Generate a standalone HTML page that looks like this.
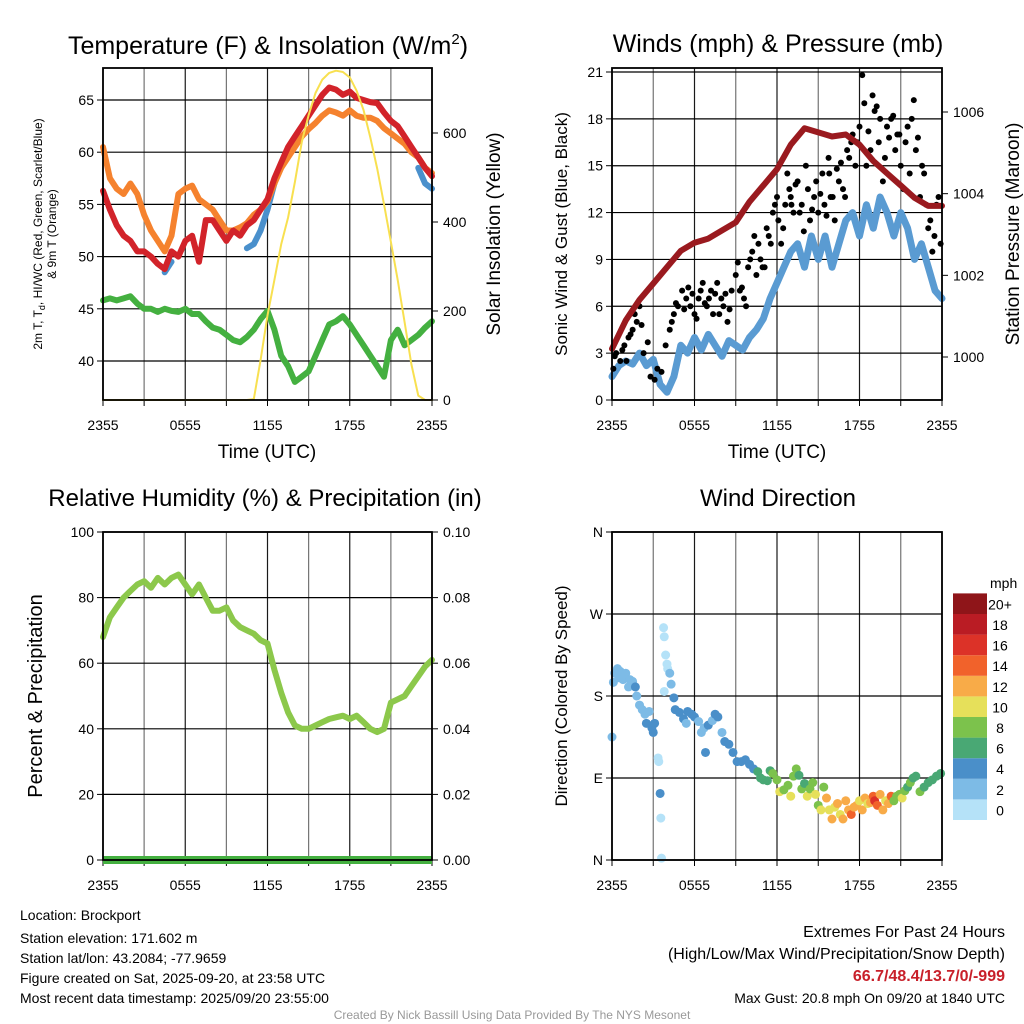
<!DOCTYPE html>
<html><head><meta charset="utf-8"><style>
html,body{margin:0;padding:0;background:#fff}
svg{display:block;font-family:"Liberation Sans",sans-serif}
</style></head><body>
<svg id="c" width="1024" height="1024" viewBox="0 0 1024 1024">
<text x="268" y="54" font-size="25" text-anchor="middle">Temperature (F) &amp; Insolation (W/m<tspan font-size="15" dy="-10">2</tspan><tspan dy="10">)</tspan></text>
<text x="778" y="52" font-size="25" text-anchor="middle">Winds (mph) &amp; Pressure (mb)</text>
<text x="265" y="506" font-size="24" text-anchor="middle">Relative Humidity (%) &amp; Precipitation (in)</text>
<text x="778" y="506" font-size="24" text-anchor="middle">Wind Direction</text>
<text x="267" y="458" font-size="19" text-anchor="middle">Time (UTC)</text>
<text x="777" y="458" font-size="19" text-anchor="middle">Time (UTC)</text>
<text transform="translate(42,234) rotate(-90)" font-size="12" text-anchor="middle">2m T, T<tspan font-size="9" dy="3">d</tspan><tspan dy="-3">, HI/WC (Red, Green, Scarlet/Blue)</tspan></text>
<text transform="translate(56,234) rotate(-90)" font-size="12" text-anchor="middle">&amp; 9m T (Orange)</text>
<text transform="translate(500,234) rotate(-90)" font-size="19" text-anchor="middle">Solar Insolation (Yellow)</text>
<text transform="translate(567,234) rotate(-90)" font-size="17" text-anchor="middle">Sonic Wind &amp; Gust (Blue, Black)</text>
<text transform="translate(1019,234) rotate(-90)" font-size="19" text-anchor="middle">Station Pressure (Maroon)</text>
<text transform="translate(42,696) rotate(-90)" font-size="20" text-anchor="middle">Percent &amp; Precipitation</text>
<text transform="translate(567,696) rotate(-90)" font-size="17" text-anchor="middle">Direction (Colored By Speed)</text>
<g font-size="14">
<text x="20" y="920">Location: Brockport</text>
<text x="20" y="943">Station elevation: 171.602 m</text>
<text x="20" y="963">Station lat/lon: 43.2084; -77.9659</text>
<text x="20" y="983">Figure created on Sat, 2025-09-20, at 23:58 UTC</text>
<text x="20" y="1003">Most recent data timestamp: 2025/09/20 23:55:00</text>
</g>
<g text-anchor="end">
<text x="1005" y="937" font-size="16">Extremes For Past 24 Hours</text>
<text x="1005" y="959" font-size="16">(High/Low/Max Wind/Precipitation/Snow Depth)</text>
<text x="1005" y="981" font-size="16" font-weight="bold" fill="#c8202a">66.7/48.4/13.7/0/-999</text>
<text x="1005" y="1003" font-size="14">Max Gust: 20.8 mph On 09/20 at 1840 UTC</text>
</g>
<text x="512" y="1019" font-size="12" fill="#999" text-anchor="middle">Created By Nick Bassill Using Data Provided By The NYS Mesonet</text>
</svg>
<script>
// ---- data (half-hourly from 2355 UTC) ----
const xTickLabels = ["2355","0555","1155","1755","2355"];
const tempRed = [56.3,54.5,53,52,51.5,50.5,50.5,50,49.3,48.8,50.5,50,51.5,52,49.5,53.5,53.5,52.5,51.5,52.5,52,53,53.5,54.5,55.5,57.5,59,60.5,61.5,62.5,63.5,64.5,65.5,66.2,66,65.5,65.8,65.2,65,64.8,64.7,63.8,63,62.5,61.5,60.5,59.5,58.5,57.7];
const temp9m = [60.5,57.5,56.5,56,57,56,54,52.5,51.5,50.5,52,56,56.5,56.8,55.5,55,54.5,53.5,52.5,52.5,52.8,53.2,54,54.5,55.3,57,58.5,59.5,60.5,61.5,62.2,62.8,63.5,64,63.8,63.5,64,63.5,63.3,63.3,63,62.3,61.8,61.3,60.8,60,59.5,58.5,58];
const heatIdx = [null,null,null,null,null,null,null,null,null,48.5,49.5,null,null,null,null,null,null,null,null,null,null,50.8,51.2,52.5,54.5,57,null,null,null,null,null,null,null,null,null,null,null,null,null,null,null,null,null,null,null,null,58.5,57,56.5];
const dewPt = [45.8,46,45.8,46,46.2,45.5,45,45,44.7,45,44.8,44.7,45,44.5,44.5,43.8,43.2,43,42.5,42,41.8,42.3,43,44,44.8,43,40.5,39.5,38,38.5,39,40.5,42,43.5,43.8,44.3,43.5,42.5,41.5,40.5,39.5,38.5,42,43,41.5,42,42.5,43.2,43.8];
const solar = [0,0,0,0,0,0,0,0,0,0,0,0,0,0,0,0,0,0,0,0,0,0,2,90,190,270,350,410,490,580,640,690,720,735,740,737,725,695,652,590,520,440,355,270,175,80,10,0,0];
const windSpd = [1.5,2.2,2.5,2.3,3,2.2,2.6,1.0,0.5,1.5,3.5,3,4,3.2,4.2,3.5,2.8,3.8,3.5,3.2,4,4.5,5.2,6.5,7.5,8.5,9.5,10,8.5,10.5,9,10.5,8.5,10,11.5,12,10.5,12.5,11,13,12,10.5,12,11,9,10,8.5,7,6.5];
const pressure = [1000.2,1000.9,1001.4,1001.8,1002.2,1002.6,1002.8,1002.9,1003.1,1003.3,1003.8,1004.2,1004.6,1005.2,1005.6,1005.5,1005.4,1005.45,1005.2,1004.8,1004.5,1004.2,1003.9,1003.7,1003.7];
const gustT = [0.1,0.3,0.6,0.9,1.2,1.5,1.8,2,2.3,2.6,2.8,3.1,3.3,3.6,3.9,4.2,4.5,4.8,5.1,5.4,5.7,6.0,6.3,6.6,6.9,7.2,7.5,7.8,8.1,8.4,8.7,9.0,9.3,9.6,9.9,10.2,10.5,10.8,11.1,11.4,11.7,12,12.1,12.3,12.6,12.9,13.0,13.2,13.5,13.8,14.1,14.4,14.7,15.0,15.3,15.6,15.8,15.9,16.2,16.5,16.8,17.1,17.4,17.5,17.7,18.0,18.2,18.5,18.8,19.1,19.4,19.5,19.7,20.0,20.3,20.6,20.9,21.0,21.2,21.5,21.8,22.1,22.4,22.7,23.0,23.3,23.6,23.9,
 0.2,0.75,1.05,1.35,1.65,2.15,4.35,4.65,5.25,5.55,5.85,6.15,6.45,6.75,7.05,7.35,7.65,7.95,8.25,8.55,9.15,9.45,9.75,10.05,10.35,10.65,10.95,11.25,11.55,11.85,12.45,12.75,13.05,13.35,13.65,13.95,14.25,14.55,14.85,15.15,15.45,15.75,16.05,16.35,16.65,16.95,17.25,17.85,18.35,18.65,18.95,19.25,19.85,20.15,20.45,20.75,21.35,21.65,21.95,22.25,22.55,22.85,23.15,23.45,23.75];
const gustV = [2,3,2.5,3.5,4,4.5,5,6,3,3.7,1.5,1.3,2,1.8,3.5,4.5,5.5,6,7,6.5,6,5.5,6.5,7.5,6,7,6.8,5.5,6,5,7,8,7,6.5,8.5,9.5,8,9,8.5,10.5,12,13,11.5,10,12.5,13.5,13,12,14,12.5,15,11.5,13,12,14.5,11.8,14.5,13,11.5,14,13.5,16,16.5,17,15,17.5,20.8,15,16,18.5,16.5,18,14,17.5,18,16,17,15,13.5,17.5,18,16,13,14.5,11,9.5,12.5,10,
 2.8,3.2,2.5,4.2,5.5,4.8,5,6.2,5.8,7.2,6.8,5.2,7,6.2,6.5,5.5,7.5,6.5,6.8,5.8,8.8,7.2,6,9,10.5,10,8.5,11,10,12.5,11,14.5,12.5,13.8,12,10.8,13.5,12.2,14,13.2,12.5,15.5,13,14.8,15.2,13,15.5,16.5,19,17.2,19.5,18.8,15.5,16.8,18.2,17,16.5,14.5,19.2,16.8,15,12.5,11.5,10.5,13];
const rh = [68,74,77,80,82,84,85,83,86,84,86,87,84,81,84,80,76,76,77,73,71,70,69,67,66,58,51,45,41,40,40,41,42,43,43.5,44,43,44,42,40,39,40,48,49,50,53,56,59,61];
const precip = [0,0,0,0,0,0,0,0,0,0,0,0,0,0,0,0,0,0,0,0,0,0,0,0,0];
const dirT = [0.0,0.1,0.2,0.4,0.5,0.6,0.8,1.0,1.2,1.3,1.5,1.7,1.8,2.0,2.2,2.4,2.5,2.7,2.9,3.0,3.1,3.35,3.4,3.5,3.55,3.6,3.75,3.8,3.8,3.9,4.0,4.05,4.2,4.3,4.5,4.6,4.9,5.2,5.4,5.5,5.8,6.0,6.3,6.5,6.7,6.8,7.0,7.3,7.5,7.7,8.0,8.2,8.5,8.8,9.1,9.4,9.7,10.0,10.3,10.6,10.8,11.0,11.3,11.5,11.7,12.0,12.2,12.5,12.8,13.0,13.2,13.4,13.6,13.8,14.0,14.2,14.4,14.6,14.8,15.0,15.2,15.4,15.6,15.8,16.0,16.2,16.4,16.6,16.8,17.0,17.2,17.4,17.6,17.8,18.0,18.2,18.4,18.6,18.8,19.0,19.1,19.3,19.5,19.7,19.9,20.1,20.3,20.5,20.7,20.9,21.1,21.3,21.5,21.7,21.9,22.1,22.4,22.7,23.0,23.3,23.6,23.9];
const dirDeg = [135,195,205,210,200,207,198,205,190,198,196,190,180,170,165,160,150,163,145,140,150,112,108,73,46,2,255,245,185,225,215,210,205,193,178,165,162,155,150,163,160,157,152,140,145,118,148,153,160,157,140,130,127,118,108,108,110,105,100,97,90,88,87,98,95,88,75,77,82,70,92,100,93,78,84,70,78,85,72,60,55,80,68,55,45,58,62,50,45,65,55,50,58,60,65,55,68,62,63,70,65,60,72,55,65,62,70,65,70,72,68,76,80,85,90,92,75,80,85,88,92,95];
const dirSpd = [3,3,3,3,3,3,3,2.5,3,3,3.5,4.2,3,3,3,3.5,4.2,3,4.5,4.5,4.2,1,1,4.5,1.5,1,1,1,1,1,1,1.5,2.5,2.5,4.5,5,5,5,3,5,5,5,3,3,3,5,5,3,5,5,3,5,5,5,5,5,5,5,5,6.5,6.5,6,7,7,8.5,8.5,10.5,9,9,10.5,8.5,9,6.5,9,7,10.5,8.5,9,10.5,8.5,10.5,8.5,12.5,10.5,12.5,10.5,12.5,10.5,12.5,12.5,12.5,14.5,12.5,12.5,10.5,12.5,12.5,10.5,12.5,14.5,16.5,14.5,12.5,12.5,10.5,12.5,14.5,8.5,9,8.5,10.5,8.5,7,8.5,7,7,8.5,7,6.5,7,7,6.5];
const speedColors = ["#b5e2f8","#7dbbe6","#4a8fc9","#49a874","#7cc24c","#e6e05a","#f8ab48","#f1622b","#dc3228","#ba1c24","#8f1519"];
const speedLabels = ["0","2","4","6","8","10","12","14","16","18","20+"];

const NS="http://www.w3.org/2000/svg", svg=document.getElementById('c');
function mk(tag,a,parent){const e=document.createElementNS(NS,tag);for(const k in a)e.setAttribute(k,a[k]);(parent||svg).appendChild(e);return e;}
function lin(d0,d1,r0,r1){return v=>r0+(v-d0)/(d1-d0)*(r1-r0);}

function panel(name,x0,x1,y0,y1,hLines,hLabels,hScale,rLines,rLabels,rScale){
  const g=mk('g',{});
  
  
  for(let i=0;i<=8;i++){const x=x0+(x1-x0)*i/8;
    const l=mk('line',{x1:x,x2:x,y1:y0,y2:y1,stroke:'#000','stroke-width':1.2,'stroke-opacity':i%2?0.55:0.9},g);
    
    const t=mk('line',{x1:x,x2:x,y1:y1,y2:y1+6,stroke:'#000','stroke-width':1},g);
    
    if(i%2==0){const tx=mk('text',{x:x,y:y1+30,'font-size':14,'text-anchor':'middle'},g);tx.textContent=xTickLabels[i/2];
      }
  }
  hLines.forEach((v,i)=>{const y=hScale(v);
    const l=mk('line',{x1:x0,x2:x1,y1:y,y2:y,stroke:'#000','stroke-width':1.2},g);
    
    mk('line',{x1:x0-6,x2:x0,y1:y,y2:y,stroke:'#000'},g);
    const tx=mk('text',{x:x0-9,y:y+5,'font-size':14,'text-anchor':'end'},g);tx.textContent=hLabels[i];
    });
  if(rLines)rLines.forEach((v,i)=>{const y=rScale(v);
    mk('line',{x1:x1,x2:x1+6,y1:y,y2:y,stroke:'#000'},g);
    const tx=mk('text',{x:x1+11,y:y+5,'font-size':14},g);tx.textContent=rLabels[i];
    });
  return g;
}
function frame(x0,x1,y0,y1,nm){const r=mk('rect',{x:x0,y:y0,width:x1-x0,height:y1-y0,fill:'none',stroke:'#000','stroke-width':1.8});
  }
function path(arr,xs,ys,attrs,nm){let d='',pen=false;arr.forEach((v,i)=>{if(v==null){pen=false;return;}d+=(pen?'L':'M')+xs(i).toFixed(1)+','+ys(v).toFixed(1);pen=true;});
  const p=mk('path',Object.assign({d:d,fill:'none','stroke-linejoin':'round','stroke-linecap':'round'},attrs));
  return p;}

// Panel 1
{const x0=103,x1=432,y0=68,y1=400;
 const ys=lin(40,65,361,100), yr=lin(0,600,400,133), xs=i=>x0+i*0.5/24*(x1-x0);
 panel('temperature',x0,x1,y0,y1,[40,45,50,55,60,65],["40","45","50","55","60","65"],ys,[0,200,400,600],["0","200","400","600"],yr);
 path(heatIdx,xs,ys,{stroke:'#4a90cc','stroke-width':6},'heat-index-line');
 path(temp9m,xs,ys,{stroke:'#f5822e','stroke-width':6},'temp-9m-line');
 path(tempRed,xs,ys,{stroke:'#d2232a','stroke-width':6},'temp-2m-line');
 path(dewPt,xs,ys,{stroke:'#44b040','stroke-width':6},'dewpoint-line');
 path(solar,xs,yr,{stroke:'#f8e050','stroke-width':2},'solar-line');
 frame(x0,x1,y0,y1,'temperature');}

// Panel 2
{const x0=612,x1=942,y0=68,y1=400;
 const ys=lin(0,21,400,72), yp=lin(1000,1006,357,112), xs=i=>x0+i*0.5/24*(x1-x0), xh=i=>x0+i/24*(x1-x0), xt=t=>x0+t/24*(x1-x0);
 panel('wind',x0,x1,y0,y1,[0,3,6,9,12,15,18,21],["0","3","6","9","12","15","18","21"],ys,[1000,1002,1004,1006],["1000","1002","1004","1006"],yp);
 path(windSpd,xs,ys,{stroke:'#5a9bd2','stroke-width':7},'wind-speed-line');
 gustT.forEach((t,i)=>{const c=mk('circle',{cx:xt(t),cy:ys(gustV[i]),r:3,fill:'#000'});
   
   });
 path(pressure,xh,yp,{stroke:'#9a1a1f','stroke-width':6},'pressure-line');
 frame(x0,x1,y0,y1,'wind');}

// Panel 3
{const x0=103,x1=432,y0=532,y1=860;
 const ys=lin(0,100,860,532), yr=lin(0,0.1,860,532), xs=i=>x0+i*0.5/24*(x1-x0), xh=i=>x0+i/24*(x1-x0);
 panel('humidity',x0,x1,y0,y1,[0,20,40,60,80,100],["0","20","40","60","80","100"],ys,[0,0.02,0.04,0.06,0.08,0.1],["0.00","0.02","0.04","0.06","0.08","0.10"],yr);
 path(rh,xs,ys,{stroke:'#8cc84b','stroke-width':6},'rh-line');
 path(precip,xh,yr,{stroke:'#44b040','stroke-width':8,'stroke-linecap':'butt'},'precip-line');
 frame(x0,x1,y0,y1,'humidity');}

// Panel 4
{const x0=612,x1=942,y0=532,y1=860;
 const ys=lin(0,360,860,532), xt=t=>x0+t/24*(x1-x0);
 panel('direction',x0,x1,y0,y1,[0,90,180,270,360],["N","E","S","W","N"],ys,null,null,null);
 dirT.forEach((t,i)=>{const b=Math.min(10,Math.floor(dirSpd[i]/2));
   const c=mk('circle',{cx:xt(t),cy:ys(dirDeg[i]),r:4.5,fill:speedColors[b]});
   
   });
 frame(x0,x1,y0,y1,'direction');
 const lg=mk('g',{});
 
 
 const t=mk('text',{x:990,y:588,'font-size':14},lg);t.textContent='mph';
 speedColors.forEach((c,i)=>{const y=820-(i+1)*20.6;
   const r=mk('rect',{x:953,y:y,width:34,height:20.6,fill:c},lg);
   
   
   const tx=mk('text',{x:1000,y:y+16,'font-size':14,'text-anchor':'middle'},lg);tx.textContent=speedLabels[i];
   
   });}
</script>
</body></html>
